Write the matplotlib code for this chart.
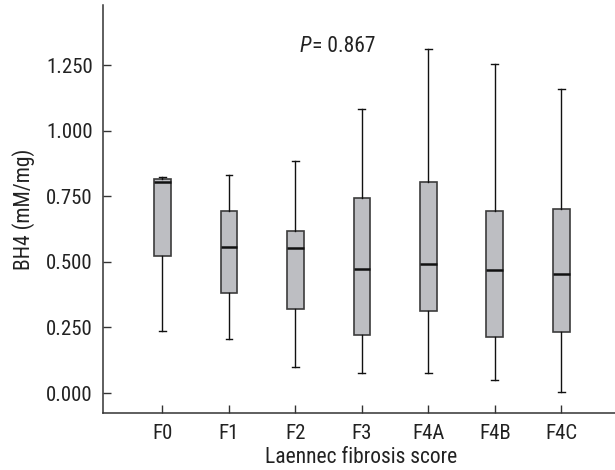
import matplotlib
matplotlib.use("Agg")
import matplotlib.pyplot as plt

# box summary values
groups = ["F0", "F1", "F2", "F3", "F4A", "F4B", "F4C"]
whislo = [0.238, 0.206, 0.098, 0.077, 0.077, 0.049, 0.003]
q1 = [0.523, 0.383, 0.322, 0.221, 0.312, 0.214, 0.231]
med = [0.806, 0.556, 0.552, 0.475, 0.493, 0.468, 0.456]
q3 = [0.817, 0.693, 0.619, 0.743, 0.806, 0.693, 0.703]
whishi = [0.825, 0.832, 0.887, 1.084, 1.311, 1.257, 1.161]
yticks = [0.0, 0.25, 0.5, 0.75, 1.0, 1.25]

plt.rcParams['font.family'] = ['Roboto Condensed', 'DejaVu Sans']

fig = plt.figure(figsize=(6.15, 4.7), dpi=100)
ax = fig.add_axes([0.1667, 0.122, 0.84, 0.867])

stats = []
for i in range(len(groups)):
    stats.append({"whislo": whislo[i], "q1": q1[i], "med": med[i],
                  "q3": q3[i], "whishi": whishi[i], "fliers": []})

ax.bxp(stats, positions=range(len(groups)), widths=0.25, patch_artist=True,
       showfliers=False,
       boxprops=dict(facecolor="#bdbec2", edgecolor="#3c3c3c", linewidth=1.2),
       medianprops=dict(color="#111111", linewidth=1.8),
       whiskerprops=dict(color="#111111", linewidth=1.0),
       capprops=dict(color="#111111", linewidth=1.0),
       capwidths=0.1)

ax.set_xlim(-0.9, 6.87)
ax.set_ylim(-0.075, 1.48)
ax.set_xticks(range(len(groups)))
ax.set_xticklabels(groups)
ax.set_yticks(yticks)
ax.set_yticklabels(["%.3f" % v for v in yticks])

for s in ["top", "right"]:
    ax.spines[s].set_visible(False)
for s in ["left", "bottom"]:
    ax.spines[s].set_color("#333333")
    ax.spines[s].set_linewidth(1.1)

ax.tick_params(axis="both", direction="in", length=6, width=1, color="#333333",
               labelsize=15, labelcolor="#222222")
ax.tick_params(axis="y", pad=7)
ax.tick_params(axis="x", pad=8)

ax.set_xlabel("Laennec fibrosis score", fontsize=15.5, color="#222222", labelpad=3)
ax.set_ylabel("BH4 (mM/mg)", fontsize=15.5, color="#222222", labelpad=8)

ax.text(2.065, 1.323, "P", fontsize=15.5, fontstyle="italic", color="#222222",
        va="center", ha="left")
ax.text(2.25, 1.323, "= 0.867", fontsize=15.5, color="#222222", va="center", ha="left")

fig.savefig("out.png", dpi=100)
